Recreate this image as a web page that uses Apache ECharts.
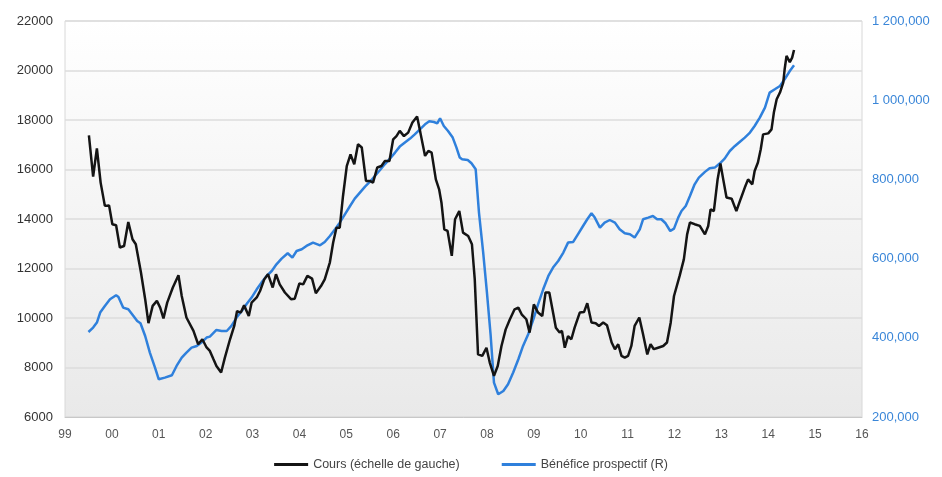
<!DOCTYPE html>
<html>
<head>
<meta charset="utf-8">
<script src="https://cdn.jsdelivr.net/npm/echarts@6/dist/echarts.min.js"></script>
<style>
  html, body { margin: 0; padding: 0; background: #fff; }
  #chart { width: 942px; height: 477px; }
</style>
</head>
<body>
<div id="chart"></div>
<script>
// x tick labels (two-digit years)
const yearLabels = ['99', '00', '01', '02', '03', '04', '05', '06', '07', '08', '09', '10', '11', '12', '13', '14', '15', '16']

// Cours (échelle de gauche)
const coursYears = [
  1999.51, 1999.60, 1999.68, 1999.76, 1999.85, 1999.94, 2000.01, 2000.09, 2000.17, 2000.26,
  2000.35, 2000.44, 2000.51, 2000.62, 2000.71, 2000.78, 2000.87, 2000.96, 2001.03, 2001.10,
  2001.18, 2001.30, 2001.42, 2001.49, 2001.59, 2001.74, 2001.84, 2001.93, 2002.02, 2002.09,
  2002.16, 2002.23, 2002.33, 2002.41, 2002.52, 2002.61, 2002.67, 2002.75, 2002.82, 2002.92,
  2002.98, 2003.09, 2003.16, 2003.25, 2003.33, 2003.43, 2003.50, 2003.58, 2003.69, 2003.82,
  2003.90, 2004.00, 2004.08, 2004.17, 2004.27, 2004.35, 2004.46, 2004.54, 2004.65, 2004.72,
  2004.79, 2004.86, 2004.93, 2005.01, 2005.09, 2005.17, 2005.25, 2005.33, 2005.42, 2005.50,
  2005.57, 2005.66, 2005.75, 2005.82, 2005.92, 2006.00, 2006.07, 2006.14, 2006.23, 2006.32,
  2006.41, 2006.51, 2006.58, 2006.68, 2006.75, 2006.82, 2006.91, 2006.98, 2007.03, 2007.09,
  2007.16, 2007.25, 2007.32, 2007.41, 2007.49, 2007.60, 2007.68, 2007.74, 2007.81, 2007.90,
  2007.99, 2008.06, 2008.15, 2008.23, 2008.31, 2008.40, 2008.49, 2008.59, 2008.67, 2008.74,
  2008.84, 2008.91, 2009.00, 2009.09, 2009.18, 2009.25, 2009.33, 2009.41, 2009.47, 2009.55,
  2009.60, 2009.66, 2009.73, 2009.80, 2009.87, 2009.98, 2010.07, 2010.14, 2010.23, 2010.32,
  2010.39, 2010.48, 2010.56, 2010.66, 2010.73, 2010.80, 2010.87, 2010.94, 2011.01, 2011.08,
  2011.15, 2011.25, 2011.33, 2011.42, 2011.49, 2011.56, 2011.65, 2011.76, 2011.84, 2011.92,
  2011.99, 2012.11, 2012.20, 2012.27, 2012.33, 2012.43, 2012.54, 2012.65, 2012.72, 2012.77,
  2012.84, 2012.92, 2012.98, 2013.04, 2013.11, 2013.22, 2013.32, 2013.41, 2013.50, 2013.57,
  2013.66, 2013.71, 2013.78, 2013.84, 2013.89, 2014.00, 2014.07, 2014.12, 2014.18, 2014.25,
  2014.32, 2014.35, 2014.39, 2014.46, 2014.51, 2014.55
]
const coursValues = [
  17380, 15710, 16850, 15470, 14530, 14550, 13790, 13750, 12850, 12910,
  13880, 13180, 12980, 11840, 10760, 9790, 10490, 10690, 10420, 9980,
  10620, 11230, 11730, 10890, 10020, 9480, 8940, 9140, 8810, 8670,
  8360, 8060, 7800, 8400, 9140, 9680, 10280, 10220, 10510, 10080,
  10620, 10830, 11090, 11560, 11770, 11230, 11770, 11360, 11030, 10760,
  10780, 11400, 11360, 11700, 11590, 11000, 11290, 11560, 12250, 13050,
  13650, 13650, 14930, 16140, 16610, 16210, 17020, 16890, 15540, 15540,
  15470, 16080, 16140, 16340, 16340, 17220, 17350, 17560, 17350, 17490,
  17900, 18140, 17490, 16550, 16750, 16680, 15600, 15200, 14660, 13580,
  13520, 12510, 13990, 14320, 13450, 13310, 12980, 11560, 8530, 8470,
  8800, 8200, 7660, 8060, 8870, 9540, 9950, 10350, 10420, 10150,
  9950, 9410, 10550, 10220, 10080, 11030, 11030, 10220, 9610, 9410,
  9480, 8800, 9270, 9140, 9610, 10220, 10240, 10600, 9820, 9790,
  9680, 9820, 9710, 9010, 8740, 8940, 8470, 8400, 8470, 8870,
  9680, 10020, 9340, 8530, 8940, 8740, 8800, 8870, 9010, 9820,
  10890, 11700, 12370, 13380, 13860, 13790, 13720, 13380, 13720, 14390,
  14320, 15600, 16240, 15600, 14870, 14820, 14320, 14800, 15270, 15600,
  15400, 15940, 16280, 16820, 17420, 17460, 17620, 18300, 18840, 19110,
  19510, 20050, 20590, 20340, 20520, 20830
]

// Bénéfice prospectif (R)
const beneYears = [
  1999.50, 1999.60, 1999.68, 1999.75, 1999.85, 1999.96, 2000.09, 2000.14, 2000.24, 2000.35,
  2000.46, 2000.54, 2000.61, 2000.71, 2000.81, 2000.92, 2001.00, 2001.13, 2001.28, 2001.38,
  2001.49, 2001.59, 2001.70, 2001.81, 2001.91, 2002.02, 2002.09, 2002.23, 2002.34, 2002.45,
  2002.55, 2002.66, 2002.77, 2002.87, 2002.98, 2003.09, 2003.19, 2003.30, 2003.41, 2003.51,
  2003.62, 2003.75, 2003.85, 2003.94, 2004.05, 2004.15, 2004.29, 2004.44, 2004.54, 2004.65,
  2004.76, 2004.86, 2004.97, 2005.08, 2005.18, 2005.29, 2005.40, 2005.50, 2005.61, 2005.72,
  2005.82, 2005.93, 2006.04, 2006.14, 2006.25, 2006.36, 2006.46, 2006.57, 2006.68, 2006.77,
  2006.87, 2006.94, 2007.00, 2007.08, 2007.17, 2007.27, 2007.35, 2007.42, 2007.47, 2007.59,
  2007.67, 2007.76, 2007.83, 2007.92, 2008.00, 2008.08, 2008.15, 2008.24, 2008.35, 2008.45,
  2008.56, 2008.67, 2008.77, 2008.88, 2008.99, 2009.09, 2009.20, 2009.31, 2009.41, 2009.52,
  2009.63, 2009.73, 2009.84, 2009.94, 2010.05, 2010.14, 2010.23, 2010.30, 2010.41, 2010.51,
  2010.62, 2010.73, 2010.83, 2010.94, 2011.05, 2011.15, 2011.26, 2011.33, 2011.44, 2011.54,
  2011.63, 2011.72, 2011.81, 2011.91, 2011.99, 2012.08, 2012.15, 2012.24, 2012.33, 2012.43,
  2012.52, 2012.65, 2012.75, 2012.86, 2012.97, 2013.07, 2013.18, 2013.29, 2013.39, 2013.50,
  2013.61, 2013.71, 2013.82, 2013.93, 2014.03, 2014.14, 2014.25, 2014.35, 2014.46, 2014.55
]
const beneValues = [
  414700, 425800, 438400, 463700, 480400, 497300, 507400, 503000, 476300, 472000,
  455100, 442500, 436700, 404600, 362700, 324800, 295300, 299500, 305400, 328900,
  350100, 362700, 375300, 379400, 387900, 400600, 403100, 419800, 417200, 417200,
  429900, 451100, 467700, 484600, 501600, 522500, 539400, 556100, 568700, 585600,
  600000, 613400, 602600, 619200, 623500, 631900, 640400, 633600, 642000, 657100,
  674000, 690900, 711900, 732900, 751500, 766700, 781800, 793500, 808600, 823800,
  838100, 852500, 867700, 882800, 892900, 903000, 913900, 926500, 939100, 946700,
  945000, 941700, 954300, 934900, 922200, 905600, 880300, 855100, 850800, 849000,
  840700, 825500, 716200, 615200, 514200, 404600, 286900, 257400, 265700, 282600,
  312200, 345800, 379400, 408900, 446800, 484600, 522500, 556100, 577300, 594000,
  615200, 640400, 642000, 661400, 682400, 699300, 714400, 703600, 678300, 690900,
  697500, 690900, 674000, 663900, 661400, 653100, 674000, 699300, 703600, 707600,
  699300, 699300, 689200, 669700, 675800, 703600, 720200, 732900, 758100, 787600,
  804600, 819000, 828000, 829800, 840700, 852500, 871700, 884400, 894500, 905600,
  918200, 934900, 956100, 981300, 1019200, 1027500, 1035900, 1052800, 1073700, 1088000
]

const leftTicks = { min: 6000, max: 22000, step: 2000 }
const rightTicks = { min: 200000, max: 1200000, step: 200000 }

const zip = (xs, ys) => xs.map((x, i) => [x, ys[i]])

// 1200000 -> "1 200,000", 800000 -> "800,000"
const fmtRight = v => {
  const m = Math.floor(v / 1000000)
  const rest = v % 1000000
  const k = Math.floor(rest / 1000)
  const body = String(k).padStart(m ? 3 : 1, '0') + ',' + String(rest % 1000).padStart(3, '0')
  return m ? m + ' ' + body : body
}

const chart = echarts.init(document.getElementById('chart'))
chart.setOption({
  animation: false,
  textStyle: { fontFamily: 'Liberation Sans, Arial, sans-serif' },
  grid: {
    left: 65,
    right: 80,
    top: 21,
    bottom: 60,
    show: true,
    borderColor: '#d8d8d8',
    borderWidth: 1,
    backgroundColor: {
      type: 'linear', x: 0, y: 0, x2: 0, y2: 1,
      colorStops: [
        { offset: 0, color: '#ffffff' },
        { offset: 1, color: '#e9e9e9' }
      ]
    }
  },
  legend: {
    bottom: 1,
    left: 'center',
    itemWidth: 34,
    itemHeight: 3,
    itemGap: 42,
    icon: 'rect',
    textStyle: { color: '#444', fontSize: 12.5 },
    data: ['Cours (échelle de gauche)', 'Bénéfice prospectif (R)']
  },
  xAxis: {
    type: 'value',
    min: 1999,
    max: 2016,
    interval: 1,
    axisLine: { lineStyle: { color: '#c8c8c8' } },
    axisTick: { show: false },
    splitLine: { show: false },
    axisLabel: {
      color: '#555',
      fontSize: 12,
      margin: 12,
      formatter: v => yearLabels[Math.round(v - 1999)]
    }
  },
  yAxis: [
    {
      type: 'value',
      min: leftTicks.min,
      max: leftTicks.max,
      interval: leftTicks.step,
      axisLine: { show: false },
      axisTick: { show: false },
      axisLabel: { color: '#333', fontSize: 13, margin: 12, formatter: v => String(v) },
      splitLine: { lineStyle: { color: '#dcdcdc', width: 1.5 } }
    },
    {
      type: 'value',
      position: 'right',
      min: rightTicks.min,
      max: rightTicks.max,
      interval: rightTicks.step,
      axisLine: { show: false },
      axisTick: { show: false },
      axisLabel: { color: '#3a86d8', fontSize: 13, margin: 10, formatter: fmtRight },
      splitLine: { show: false }
    }
  ],
  series: [
    {
      name: 'Cours (échelle de gauche)',
      type: 'line',
      yAxisIndex: 0,
      showSymbol: false,
      data: zip(coursYears, coursValues),
      lineStyle: { color: '#141414', width: 2.5 },
      itemStyle: { color: '#141414' },
      z: 3
    },
    {
      name: 'Bénéfice prospectif (R)',
      type: 'line',
      yAxisIndex: 1,
      showSymbol: false,
      data: zip(beneYears, beneValues),
      lineStyle: { color: '#2f80dc', width: 2.5 },
      itemStyle: { color: '#2f80dc' },
      z: 2
    }
  ]
})
</script>
</body>
</html>
